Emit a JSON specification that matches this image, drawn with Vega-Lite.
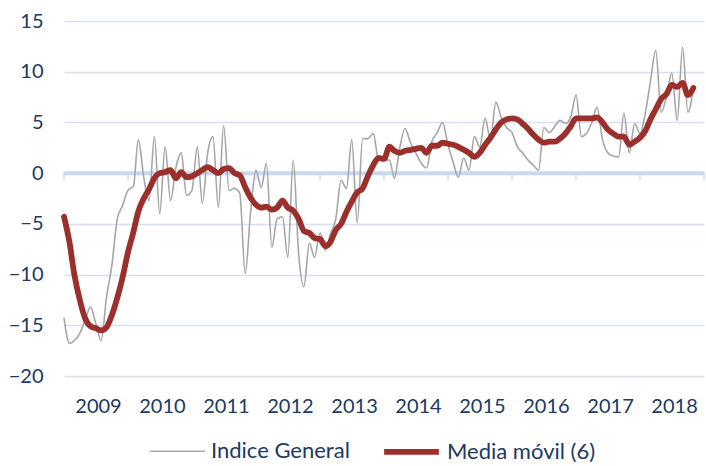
{
  "$schema": "https://vega.github.io/schema/vega-lite/v6.json",
  "width": 640,
  "height": 355,
  "autosize": {"type": "none"},
  "padding": {"left": 64, "top": 21, "right": 2, "bottom": 90},
  "background": "white",
  "config": {
    "view": {"stroke": null},
    "font": "Lato",
    "legend": {
      "orient": "none",
      "legendX": 85,
      "legendY": 400,
      "direction": "horizontal",
      "title": null,
      "symbolType": "stroke",
      "symbolSize": 3000,
      "labelFont": "Lato",
      "labelFontSize": 22,
      "labelColor": "#203864",
      "labelOffset": 5,
      "columnPadding": 22
    }
  },
  "datasets": {
    "series": [
      {"date": "2009-01-01", "Indice General": -14.3, "Media móvil (6)": -4.3},
      {"date": "2009-02-01", "Indice General": -16.8, "Media móvil (6)": -6.8},
      {"date": "2009-03-01", "Indice General": -16.5, "Media móvil (6)": -10.0},
      {"date": "2009-04-01", "Indice General": -15.8, "Media móvil (6)": -12.5},
      {"date": "2009-05-01", "Indice General": -14.5, "Media móvil (6)": -14.3},
      {"date": "2009-06-01", "Indice General": -13.2, "Media móvil (6)": -15.1},
      {"date": "2009-07-01", "Indice General": -14.8, "Media móvil (6)": -15.3},
      {"date": "2009-08-01", "Indice General": -16.5, "Media móvil (6)": -15.5},
      {"date": "2009-09-01", "Indice General": -12.2, "Media móvil (6)": -15.2},
      {"date": "2009-10-01", "Indice General": -9.1, "Media móvil (6)": -14.0},
      {"date": "2009-11-01", "Indice General": -4.5, "Media móvil (6)": -12.3},
      {"date": "2009-12-01", "Indice General": -3.2, "Media móvil (6)": -10.3},
      {"date": "2010-01-01", "Indice General": -1.7, "Media móvil (6)": -7.8},
      {"date": "2010-02-01", "Indice General": -1.3, "Media móvil (6)": -5.8},
      {"date": "2010-03-01", "Indice General": 3.3, "Media móvil (6)": -3.8},
      {"date": "2010-04-01", "Indice General": -0.4, "Media móvil (6)": -2.5},
      {"date": "2010-05-01", "Indice General": -2.7, "Media móvil (6)": -1.6},
      {"date": "2010-06-01", "Indice General": 3.6, "Media móvil (6)": -0.5},
      {"date": "2010-07-01", "Indice General": -4.0, "Media móvil (6)": 0.0},
      {"date": "2010-08-01", "Indice General": 2.6, "Media móvil (6)": 0.1},
      {"date": "2010-09-01", "Indice General": -2.7, "Media móvil (6)": 0.3},
      {"date": "2010-10-01", "Indice General": 0.5, "Media móvil (6)": -0.5},
      {"date": "2010-11-01", "Indice General": 2.0, "Media móvil (6)": 0.1},
      {"date": "2010-12-01", "Indice General": -2.2, "Media móvil (6)": -0.4},
      {"date": "2011-01-01", "Indice General": -1.7, "Media móvil (6)": -0.3},
      {"date": "2011-02-01", "Indice General": 2.6, "Media móvil (6)": 0.0},
      {"date": "2011-03-01", "Indice General": -3.0, "Media móvil (6)": 0.3},
      {"date": "2011-04-01", "Indice General": 2.0, "Media móvil (6)": 0.6},
      {"date": "2011-05-01", "Indice General": 3.6, "Media móvil (6)": 0.3},
      {"date": "2011-06-01", "Indice General": -3.4, "Media móvil (6)": 0.0},
      {"date": "2011-07-01", "Indice General": 4.7, "Media móvil (6)": 0.4},
      {"date": "2011-08-01", "Indice General": -1.7, "Media móvil (6)": 0.5},
      {"date": "2011-09-01", "Indice General": -1.5, "Media móvil (6)": 0.0},
      {"date": "2011-10-01", "Indice General": -2.0, "Media móvil (6)": -0.2},
      {"date": "2011-11-01", "Indice General": -9.9, "Media móvil (6)": -1.4},
      {"date": "2011-12-01", "Indice General": -4.0, "Media móvil (6)": -2.4},
      {"date": "2012-01-01", "Indice General": 0.3, "Media móvil (6)": -3.1},
      {"date": "2012-02-01", "Indice General": -1.4, "Media móvil (6)": -3.4},
      {"date": "2012-03-01", "Indice General": 1.0, "Media móvil (6)": -3.3},
      {"date": "2012-04-01", "Indice General": -7.3, "Media móvil (6)": -3.6},
      {"date": "2012-05-01", "Indice General": -4.5, "Media móvil (6)": -3.4},
      {"date": "2012-06-01", "Indice General": -4.3, "Media móvil (6)": -2.7},
      {"date": "2012-07-01", "Indice General": -8.3, "Media móvil (6)": -3.4},
      {"date": "2012-08-01", "Indice General": 1.3, "Media móvil (6)": -3.7},
      {"date": "2012-09-01", "Indice General": -8.0, "Media móvil (6)": -4.5},
      {"date": "2012-10-01", "Indice General": -11.2, "Media móvil (6)": -5.7},
      {"date": "2012-11-01", "Indice General": -6.9, "Media móvil (6)": -5.9},
      {"date": "2012-12-01", "Indice General": -8.3, "Media móvil (6)": -6.4},
      {"date": "2013-01-01", "Indice General": -5.9, "Media móvil (6)": -6.5},
      {"date": "2013-02-01", "Indice General": -7.6, "Media móvil (6)": -7.2},
      {"date": "2013-03-01", "Indice General": -6.0, "Media móvil (6)": -6.8},
      {"date": "2013-04-01", "Indice General": -4.5, "Media móvil (6)": -5.6},
      {"date": "2013-05-01", "Indice General": -0.7, "Media móvil (6)": -5.0},
      {"date": "2013-06-01", "Indice General": -1.5, "Media móvil (6)": -3.8},
      {"date": "2013-07-01", "Indice General": 3.3, "Media móvil (6)": -2.8},
      {"date": "2013-08-01", "Indice General": -4.9, "Media móvil (6)": -1.9},
      {"date": "2013-09-01", "Indice General": 3.4, "Media móvil (6)": -1.5},
      {"date": "2013-10-01", "Indice General": 3.4, "Media móvil (6)": -0.3},
      {"date": "2013-11-01", "Indice General": 3.9, "Media móvil (6)": 0.8},
      {"date": "2013-12-01", "Indice General": 1.3, "Media móvil (6)": 1.5},
      {"date": "2014-01-01", "Indice General": 1.3, "Media móvil (6)": 1.4},
      {"date": "2014-02-01", "Indice General": 1.3, "Media móvil (6)": 2.6},
      {"date": "2014-03-01", "Indice General": -0.5, "Media móvil (6)": 2.2},
      {"date": "2014-04-01", "Indice General": 2.5, "Media móvil (6)": 2.0},
      {"date": "2014-05-01", "Indice General": 4.4, "Media móvil (6)": 2.2},
      {"date": "2014-06-01", "Indice General": 3.0, "Media móvil (6)": 2.3},
      {"date": "2014-07-01", "Indice General": 2.0, "Media móvil (6)": 2.4},
      {"date": "2014-08-01", "Indice General": 1.0, "Media móvil (6)": 2.5},
      {"date": "2014-09-01", "Indice General": 0.5, "Media móvil (6)": 2.0},
      {"date": "2014-10-01", "Indice General": 3.1, "Media móvil (6)": 2.7},
      {"date": "2014-11-01", "Indice General": 4.0, "Media móvil (6)": 2.7},
      {"date": "2014-12-01", "Indice General": 5.0, "Media móvil (6)": 3.0},
      {"date": "2015-01-01", "Indice General": 2.8, "Media móvil (6)": 2.9},
      {"date": "2015-02-01", "Indice General": 1.0, "Media móvil (6)": 2.8},
      {"date": "2015-03-01", "Indice General": -0.4, "Media móvil (6)": 2.6},
      {"date": "2015-04-01", "Indice General": 1.5, "Media móvil (6)": 2.3},
      {"date": "2015-05-01", "Indice General": 0.3, "Media móvil (6)": 2.0},
      {"date": "2015-06-01", "Indice General": 3.6, "Media móvil (6)": 1.6},
      {"date": "2015-07-01", "Indice General": 2.6, "Media móvil (6)": 2.0},
      {"date": "2015-08-01", "Indice General": 5.4, "Media móvil (6)": 2.8},
      {"date": "2015-09-01", "Indice General": 3.3, "Media móvil (6)": 3.5},
      {"date": "2015-10-01", "Indice General": 7.0, "Media móvil (6)": 4.3},
      {"date": "2015-11-01", "Indice General": 5.5, "Media móvil (6)": 5.0},
      {"date": "2015-12-01", "Indice General": 4.5, "Media móvil (6)": 5.3},
      {"date": "2016-01-01", "Indice General": 4.0, "Media móvil (6)": 5.4},
      {"date": "2016-02-01", "Indice General": 2.6, "Media móvil (6)": 5.3},
      {"date": "2016-03-01", "Indice General": 2.0, "Media móvil (6)": 4.9},
      {"date": "2016-04-01", "Indice General": 1.3, "Media móvil (6)": 4.4},
      {"date": "2016-05-01", "Indice General": 0.8, "Media móvil (6)": 3.8},
      {"date": "2016-06-01", "Indice General": 0.3, "Media móvil (6)": 3.3},
      {"date": "2016-07-01", "Indice General": 4.5, "Media móvil (6)": 3.0},
      {"date": "2016-08-01", "Indice General": 4.0, "Media móvil (6)": 3.1},
      {"date": "2016-09-01", "Indice General": 4.6, "Media móvil (6)": 3.1},
      {"date": "2016-10-01", "Indice General": 5.2, "Media móvil (6)": 3.4},
      {"date": "2016-11-01", "Indice General": 4.9, "Media móvil (6)": 3.9},
      {"date": "2016-12-01", "Indice General": 5.5, "Media móvil (6)": 4.6},
      {"date": "2017-01-01", "Indice General": 7.7, "Media móvil (6)": 5.4},
      {"date": "2017-02-01", "Indice General": 3.6, "Media móvil (6)": 5.4},
      {"date": "2017-03-01", "Indice General": 3.9, "Media móvil (6)": 5.4},
      {"date": "2017-04-01", "Indice General": 5.0, "Media móvil (6)": 5.4},
      {"date": "2017-05-01", "Indice General": 6.5, "Media móvil (6)": 5.5},
      {"date": "2017-06-01", "Indice General": 3.3, "Media móvil (6)": 5.0},
      {"date": "2017-07-01", "Indice General": 2.0, "Media móvil (6)": 4.3},
      {"date": "2017-08-01", "Indice General": 1.7, "Media móvil (6)": 3.9},
      {"date": "2017-09-01", "Indice General": 1.6, "Media móvil (6)": 3.6},
      {"date": "2017-10-01", "Indice General": 5.9, "Media móvil (6)": 3.6},
      {"date": "2017-11-01", "Indice General": 2.0, "Media móvil (6)": 2.8},
      {"date": "2017-12-01", "Indice General": 4.9, "Media móvil (6)": 3.1},
      {"date": "2018-01-01", "Indice General": 3.9, "Media móvil (6)": 3.5},
      {"date": "2018-02-01", "Indice General": 6.0, "Media móvil (6)": 4.2},
      {"date": "2018-03-01", "Indice General": 9.0, "Media móvil (6)": 5.3},
      {"date": "2018-04-01", "Indice General": 12.1, "Media móvil (6)": 6.3},
      {"date": "2018-05-01", "Indice General": 6.0, "Media móvil (6)": 7.3},
      {"date": "2018-06-01", "Indice General": 7.5, "Media móvil (6)": 7.8},
      {"date": "2018-07-01", "Indice General": 9.9, "Media móvil (6)": 8.7},
      {"date": "2018-08-01", "Indice General": 5.2, "Media móvil (6)": 8.5},
      {"date": "2018-09-01", "Indice General": 12.4, "Media móvil (6)": 8.9},
      {"date": "2018-10-01", "Indice General": 6.0, "Media móvil (6)": 7.7},
      {"date": "2018-11-01", "Indice General": 8.4, "Media móvil (6)": 8.4}
    ],
    "years": [
      {"start": "2009-01-01"}, {"start": "2010-01-01"}, {"start": "2011-01-01"},
      {"start": "2012-01-01"}, {"start": "2013-01-01"}, {"start": "2014-01-01"},
      {"start": "2015-01-01"}, {"start": "2016-01-01"}, {"start": "2017-01-01"},
      {"start": "2018-01-01"}, {"start": "2019-01-01"}
    ],
    "zero": [{"level": 0}]
  },
  "layer": [
    {
      "data": {"name": "zero"},
      "mark": {"type": "rule", "color": "#C9D8EF", "strokeWidth": 4},
      "encoding": {
        "y": {
          "field": "level", "type": "quantitative",
          "scale": {"domain": [-20, 15], "nice": false, "zero": false},
          "axis": {"values": [-20, -15, -10, -5, 0, 5, 10, 15], "domain": false, "ticks": false, "grid": true, "gridColor": "#D5E0F2", "gridWidth": 1.5, "labelPadding": 21, "labelFont": "Lato", "labelFontSize": 20, "labelColor": "#203864", "title": null}
        }
      }
    },
    {
      "data": {"name": "years"},
      "mark": {"type": "tick", "orient": "vertical", "size": 8, "thickness": 2, "yOffset": 3, "color": "#C9D8EF"},
      "encoding": {
        "x": {
          "field": "start", "type": "temporal",
          "scale": {"type": "utc", "domain": [{"year": 2009, "month": 1, "date": 1, "utc": true}, {"year": 2019, "month": 1, "date": 1, "utc": true}]},
          "axis": {"values": [{"year": 2009, "utc": true}, {"year": 2010, "utc": true}, {"year": 2011, "utc": true}, {"year": 2012, "utc": true}, {"year": 2013, "utc": true}, {"year": 2014, "utc": true}, {"year": 2015, "utc": true}, {"year": 2016, "utc": true}, {"year": 2017, "utc": true}, {"year": 2018, "utc": true}], "format": "%Y", "labelOffset": 34, "labelPadding": 20, "labelOverlap": false, "labelBound": false, "labelFlush": false, "labelAlign": "center", "ticks": false, "domain": false, "grid": false, "labelFont": "Lato", "labelFontSize": 20, "labelColor": "#203864", "title": null}
        },
        "y": {"datum": 0, "type": "quantitative"}
      }
    },
    {
      "data": {"name": "series"},
      "transform": [{"fold": ["Indice General", "Media móvil (6)"], "as": ["series", "value"]}],
      "mark": {"type": "line", "interpolate": "monotone", "strokeCap": "round", "strokeJoin": "round"},
      "encoding": {
        "x": {
          "field": "date", "type": "temporal",
          "scale": {"type": "utc", "domain": [{"year": 2009, "month": 1, "date": 1, "utc": true}, {"year": 2019, "month": 1, "date": 1, "utc": true}]},
          "axis": {"values": [{"year": 2009, "utc": true}, {"year": 2010, "utc": true}, {"year": 2011, "utc": true}, {"year": 2012, "utc": true}, {"year": 2013, "utc": true}, {"year": 2014, "utc": true}, {"year": 2015, "utc": true}, {"year": 2016, "utc": true}, {"year": 2017, "utc": true}, {"year": 2018, "utc": true}], "format": "%Y", "labelOffset": 34, "labelPadding": 20, "labelOverlap": false, "labelBound": false, "labelFlush": false, "labelAlign": "center", "ticks": false, "domain": false, "grid": false, "labelFont": "Lato", "labelFontSize": 20, "labelColor": "#203864", "title": null}
        },
        "y": {
          "field": "value", "type": "quantitative",
          "axis": {"values": [-20, -15, -10, -5, 0, 5, 10, 15], "domain": false, "ticks": false, "grid": true, "gridColor": "#D5E0F2", "gridWidth": 1.5, "labelPadding": 21, "labelFont": "Lato", "labelFontSize": 20, "labelColor": "#203864", "title": null}
        },
        "color": {
          "field": "series", "type": "nominal",
          "scale": {"domain": ["Indice General", "Media móvil (6)"], "range": ["#A6A6A6", "#9B2F2C"]}
        },
        "strokeWidth": {
          "field": "series", "type": "nominal",
          "scale": {"domain": ["Indice General", "Media móvil (6)"], "range": [1.6, 5.8]}
        }
      }
    }
  ]
}
